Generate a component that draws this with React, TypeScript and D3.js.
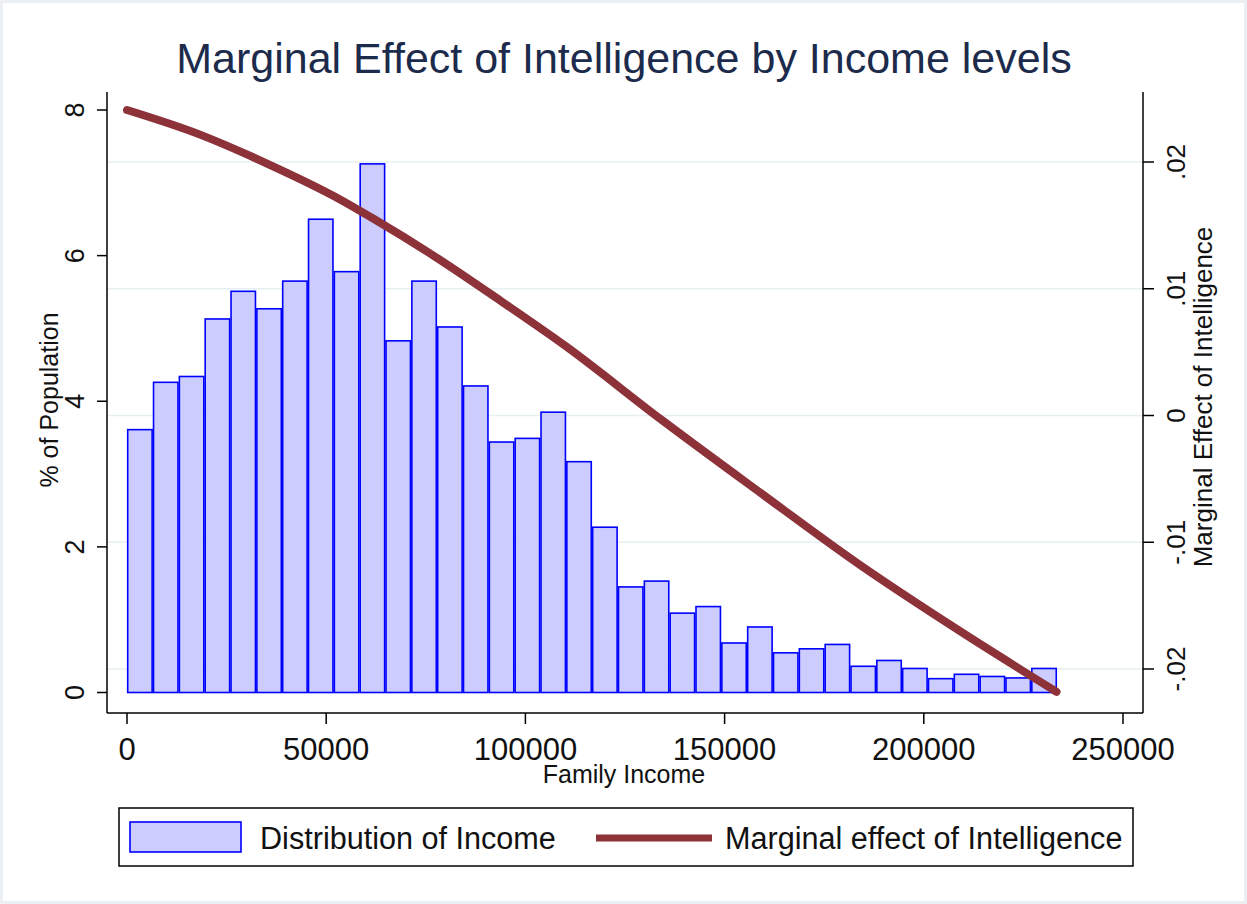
import React from "react";
import * as d3 from "d3";

// ---- Data ----
const incomeBinWidth = 6484; // width of each histogram bin (family income)
const populationShare = [
  3.61, 4.26, 4.34, 5.13, 5.51, 5.27, 5.65, 6.5, 5.78, 7.26,
  4.83, 5.65, 5.02, 4.21, 3.44, 3.49, 3.85, 3.17, 2.27, 1.45,
  1.53, 1.09, 1.18, 0.68, 0.9, 0.545, 0.6, 0.66, 0.36, 0.44,
  0.33, 0.19, 0.25, 0.22, 0.2, 0.33,
];
const lineIncome = [0, 18000, 35000, 52000, 62000, 77000, 94000, 110000, 134000, 159000, 184000, 209000, 233300];
const marginalEffect = [0.0241, 0.0222, 0.0199, 0.0173, 0.0155, 0.0126, 0.0090, 0.0055, -0.0003, -0.0061, -0.0118, -0.0170, -0.0218];
const xTicks = [0, 50000, 100000, 150000, 200000, 250000];
const yLeftTicks = [0, 2, 4, 6, 8];
const yRightTicks = [-0.02, -0.01, 0, 0.01, 0.02];
const yRightLabels = ["-.02", "-.01", "0", ".01", ".02"];

const W = 1247;
const H = 904;
const FONT = "'Liberation Sans', Arial, sans-serif";

export default function App() {
  const plotL = 107, plotR = 1143, plotT = 92, plotB = 713;
  const x = d3.scaleLinear().domain([0, 250000]).range([127, 1123]);
  const yL = d3.scaleLinear().domain([0, 8]).range([692.5, 110]);
  const yR = d3.scaleLinear().domain([-0.02, 0.02]).range([669, 162]);

  const lineGen = d3
    .line<number>()
    .x((_, i) => x(lineIncome[i]))
    .y((d) => yR(d))
    .curve(d3.curveMonotoneX);

  const inset = 0.7;

  return (
    <svg
      width={W}
      height={H}
      style={{ position: "absolute", left: 0, top: 0, display: "block" }}
      fontFamily={FONT}
    >
      <rect x={0} y={0} width={W} height={H} fill="#e9eff2" />
      <rect x={3} y={3} width={W - 6} height={H - 6} fill="#ffffff" />

      {/* Title */}
      <text x={624} y={73} textAnchor="middle" fontSize={43} fill="#1c2b4b">
        Marginal Effect of Intelligence by Income levels
      </text>

      {/* gridlines (right axis) */}
      {yRightTicks.map((t) => (
        <line key={"g" + t} x1={plotL} x2={plotR} y1={yR(t)} y2={yR(t)} stroke="#e6eff1" strokeWidth={1.5} />
      ))}

      {/* bars */}
      {populationShare.map((v, i) => {
        const x0 = x(i * incomeBinWidth) + inset;
        const x1 = x((i + 1) * incomeBinWidth) - inset;
        return (
          <rect
            key={"b" + i}
            x={x0}
            y={yL(v)}
            width={x1 - x0}
            height={yL(0) - yL(v)}
            fill="#ccccff"
            stroke="#0000ff"
            strokeWidth={1.6}
          />
        );
      })}

      {/* marginal effect line */}
      <path d={lineGen(marginalEffect) || ""} fill="none" stroke="#8c3238" strokeWidth={8} strokeLinecap="round" strokeLinejoin="round" />

      {/* axes */}
      <line x1={plotL} x2={plotL} y1={plotT} y2={plotB} stroke="#000" strokeWidth={1.5} />
      <line x1={plotR} x2={plotR} y1={plotT} y2={plotB} stroke="#000" strokeWidth={1.5} />
      <line x1={plotL} x2={plotR} y1={plotB} y2={plotB} stroke="#000" strokeWidth={1.5} />

      {/* left ticks */}
      {yLeftTicks.map((t) => (
        <g key={"l" + t}>
          <line x1={plotL - 10} x2={plotL} y1={yL(t)} y2={yL(t)} stroke="#000" strokeWidth={1.5} />
          <text
            transform={`translate(84,${yL(t)}) rotate(-90)`}
            textAnchor="middle"
            fontSize={27}
            fill="#111"
          >
            {t}
          </text>
        </g>
      ))}

      {/* right ticks */}
      {yRightTicks.map((t, i) => (
        <g key={"r" + t}>
          <line x1={plotR} x2={plotR + 11} y1={yR(t)} y2={yR(t)} stroke="#000" strokeWidth={1.5} />
          <text
            transform={`translate(1185,${yR(t)}) rotate(-90)`}
            textAnchor="middle"
            fontSize={26}
            fill="#111"
          >
            {yRightLabels[i]}
          </text>
        </g>
      ))}

      {/* bottom ticks */}
      {xTicks.map((t) => (
        <g key={"x" + t}>
          <line x1={x(t)} x2={x(t)} y1={plotB} y2={plotB + 11} stroke="#000" strokeWidth={1.5} />
          <text x={x(t)} y={760} textAnchor="middle" fontSize={31} fill="#111">
            {t}
          </text>
        </g>
      ))}

      {/* axis titles */}
      <text x={624} y={783} textAnchor="middle" fontSize={25} fill="#111">
        Family Income
      </text>
      <text transform="translate(58,400) rotate(-90)" textAnchor="middle" fontSize={25} fill="#111">
        % of Population
      </text>
      <text transform="translate(1212,397) rotate(-90)" textAnchor="middle" fontSize={26} fill="#111">
        Marginal Effect of Intelligence
      </text>

      {/* legend */}
      <rect x={119} y={808} width={1014} height={58} fill="#fff" stroke="#000" strokeWidth={1.5} />
      <rect x={130} y={822} width={111} height={30} fill="#ccccff" stroke="#0000ff" strokeWidth={1.6} />
      <text x={260} y={849} fontSize={30.6} fill="#111">
        Distribution of Income
      </text>
      <line x1={596} x2={712} y1={838} y2={838} stroke="#8c3238" strokeWidth={7} />
      <text x={725} y={849} fontSize={30.6} fill="#111">
        Marginal effect of Intelligence
      </text>
    </svg>
  );
}
